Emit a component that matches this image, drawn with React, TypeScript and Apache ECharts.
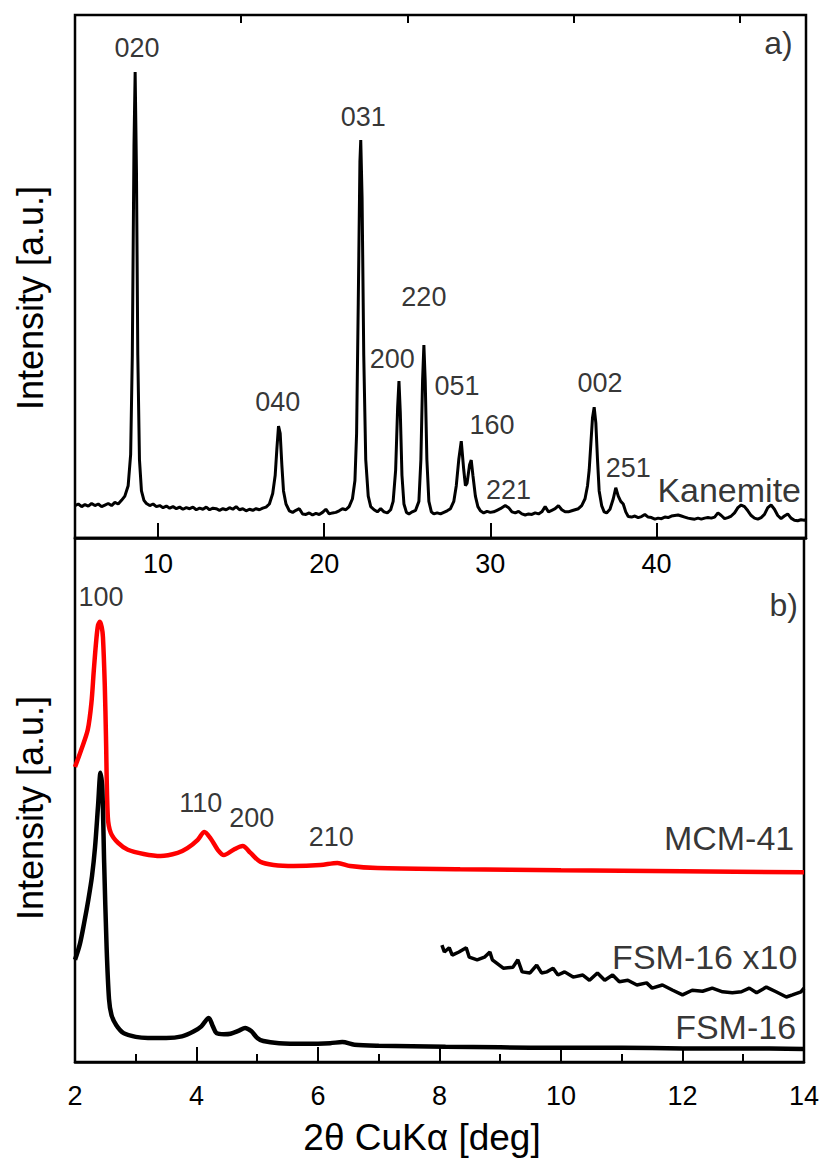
import React, { useEffect, useRef } from "react";
import * as echarts from "echarts";

// ---------- data ----------
// panel a) Kanemite: [2theta, intensity]
const kanemite: [number, number][] = [
  [5.0, 6.2], [5.2, 6.5], [5.4, 6.0], [5.6, 6.4], [5.8, 6.1], [6.0, 6.6], [6.2, 6.2], [6.4, 6.5],
  [6.6, 6.0], [6.8, 6.3], [7.0, 6.6], [7.2, 6.2], [7.4, 6.8], [7.6, 6.5], [7.8, 7.2], [8.0, 8.0],
  [8.2, 10], [8.35, 16], [8.45, 35], [8.55, 75], [8.62, 89.1], [8.7, 70], [8.78, 35], [8.88, 15],
  [9.0, 9], [9.15, 7.2], [9.3, 6.6], [9.5, 6.2], [9.7, 6.5], [9.9, 6.0], [10.1, 6.2], [10.3, 5.8],
  [10.5, 6.1], [10.7, 5.7], [10.9, 6.0], [11.1, 5.6], [11.3, 5.9], [11.5, 5.5], [11.7, 5.8],
  [11.9, 5.6], [12.1, 5.9], [12.3, 5.4], [12.5, 5.7], [12.7, 5.5], [12.9, 5.9], [13.1, 5.4],
  [13.3, 5.7], [13.5, 5.6], [13.7, 5.3], [13.9, 5.6], [14.1, 5.4], [14.3, 5.8], [14.5, 5.5],
  [14.7, 6.0], [14.9, 5.4], [15.1, 5.6], [15.3, 5.2], [15.5, 5.5], [15.7, 5.3], [15.9, 5.6],
  [16.1, 5.4], [16.3, 5.7], [16.5, 5.9], [16.7, 6.5], [16.9, 8.5], [17.05, 12], [17.15, 17],
  [17.25, 21.4], [17.35, 20], [17.45, 14], [17.55, 9], [17.7, 6.5], [17.9, 5.2], [18.1, 4.9],
  [18.3, 5.3], [18.5, 5.6], [18.7, 4.6], [18.9, 4.5], [19.1, 4.8], [19.3, 4.4], [19.5, 4.7],
  [19.7, 4.5], [19.9, 4.9], [20.1, 5.5], [20.3, 4.6], [20.5, 4.8], [20.7, 4.9], [20.9, 5.2],
  [21.1, 5.6], [21.3, 5.4], [21.5, 6.0], [21.7, 7.5], [21.85, 11], [21.95, 20], [22.05, 45],
  [22.15, 72], [22.2, 76.1], [22.28, 65], [22.38, 35], [22.5, 15], [22.65, 8], [22.8, 6],
  [23.0, 5.4], [23.2, 5.0], [23.4, 5.6], [23.6, 5.0], [23.8, 4.8], [24.0, 5.4], [24.15, 7],
  [24.3, 13], [24.42, 25], [24.5, 30.0], [24.58, 24], [24.68, 12], [24.8, 6.5], [24.95, 4.9],
  [25.1, 4.6], [25.3, 5.0], [25.5, 5.3], [25.7, 7], [25.82, 15], [25.92, 30], [26.0, 36.9],
  [26.08, 30], [26.18, 15], [26.3, 7], [26.45, 5.0], [26.6, 4.6], [26.8, 4.8], [27.0, 4.6],
  [27.2, 4.9], [27.4, 5.2], [27.6, 5.6], [27.8, 7], [27.95, 10], [28.1, 15], [28.25, 18.5],
  [28.4, 13], [28.5, 10], [28.6, 10.5], [28.75, 14], [28.85, 14.9], [28.95, 12], [29.1, 8],
  [29.25, 6], [29.4, 5.2], [29.6, 4.8], [29.8, 5.1], [30.0, 4.9], [30.2, 5.0], [30.4, 5.3],
  [30.6, 5.6], [30.9, 6.2], [31.1, 5.8], [31.3, 5.0], [31.5, 4.8], [31.7, 5.1], [31.9, 4.6],
  [32.1, 4.4], [32.3, 4.6], [32.5, 4.5], [32.7, 4.8], [32.9, 4.6], [33.1, 5.0], [33.3, 6.0],
  [33.5, 5.0], [33.7, 5.3], [33.9, 5.6], [34.1, 6.2], [34.3, 5.4], [34.5, 5.0], [34.7, 5.0],
  [34.9, 5.2], [35.1, 5.4], [35.3, 5.6], [35.5, 6.2], [35.7, 7.5], [35.85, 10], [35.95, 13],
  [36.05, 18], [36.15, 23], [36.25, 25.0], [36.35, 22], [36.45, 15], [36.55, 9], [36.7, 6.2],
  [36.85, 5.0], [37.0, 4.8], [37.2, 5.5], [37.4, 7.5], [37.55, 9.6], [37.7, 8], [37.85, 7],
  [38.0, 6.5], [38.15, 5], [38.3, 4.1], [38.5, 4.0], [38.7, 4.2], [38.9, 3.9], [39.1, 4.1],
  [39.3, 4.5], [39.5, 4.0], [39.7, 3.9], [39.9, 3.6], [40.1, 3.8], [40.3, 3.7], [40.5, 4.0],
  [40.7, 3.9], [40.9, 4.2], [41.1, 4.3], [41.3, 4.4], [41.5, 4.2], [41.7, 4.0], [41.9, 3.8],
  [42.1, 3.7], [42.3, 3.6], [42.5, 3.8], [42.7, 3.6], [42.9, 3.8], [43.1, 3.9], [43.3, 3.8],
  [43.5, 4.0], [43.7, 4.8], [43.9, 4.3], [44.1, 3.7], [44.3, 3.9], [44.5, 4.2], [44.7, 4.8],
  [44.9, 5.8], [45.1, 6.3], [45.3, 6.0], [45.5, 5.2], [45.7, 4.3], [45.9, 3.8], [46.1, 3.6],
  [46.3, 3.9], [46.5, 4.5], [46.7, 5.8], [46.9, 6.3], [47.1, 5.5], [47.3, 4.3], [47.5, 3.7],
  [47.7, 4.2], [47.9, 4.6], [48.1, 3.8], [48.3, 3.4], [48.5, 3.3], [48.7, 3.5], [48.9, 3.4],
  [49.0, 3.5],
];

// panel b) MCM-41 (red)
const mcm41: [number, number][] = [
  [2.0, 56.3], [2.1, 59.5], [2.21, 63.4], [2.27, 68.5], [2.31, 74.8], [2.35, 80.5], [2.38, 83.4],
  [2.41, 84.0], [2.44, 83.0], [2.46, 81.1], [2.49, 72], [2.51, 62], [2.54, 46.8], [2.59, 43.7],
  [2.71, 41.8], [2.87, 40.5], [3.13, 39.7], [3.41, 39.3], [3.69, 39.9], [3.85, 40.8],
  [4.02, 42.4], [4.13, 43.9], [4.23, 42.7], [4.35, 40.5], [4.45, 39.5], [4.61, 40.5],
  [4.76, 41.2], [4.89, 39.9], [5.05, 38.2], [5.27, 37.6], [5.6, 37.4], [6.04, 37.6],
  [6.32, 38.0], [6.53, 37.4], [6.98, 37.0], [8.34, 36.8], [10.0, 36.6], [12.0, 36.4],
  [14.0, 36.2],
];

// panel b) FSM-16 (black)
const fsm16: [number, number][] = [
  [2.0, 19.5], [2.08, 22.5], [2.15, 26.5], [2.22, 31], [2.28, 35.5], [2.33, 41], [2.38, 49],
  [2.42, 55.2], [2.45, 52], [2.48, 38], [2.52, 22], [2.56, 12], [2.6, 9.0], [2.68, 7.0],
  [2.8, 5.5], [3.0, 4.8], [3.2, 4.6], [3.5, 4.6], [3.76, 4.9], [3.95, 5.8], [4.08, 6.8],
  [4.2, 8.4], [4.27, 6.8], [4.33, 5.5], [4.45, 5.3], [4.56, 5.4], [4.7, 6.0], [4.8, 6.5],
  [4.9, 5.9], [5.0, 4.6], [5.1, 4.0], [5.36, 3.6], [5.8, 3.5], [6.2, 3.6], [6.4, 3.8],
  [6.6, 3.3], [7.0, 3.1], [8.1, 2.9], [9.0, 2.8], [10.0, 2.7], [11.0, 2.7], [12.0, 2.6],
  [13.0, 2.6], [14.0, 2.5],
];

// panel b) FSM-16 x10 (black, from 8 deg)
const fsm16x10: [number, number][] = [
  [8.04, 22.3], [8.08, 21.0], [8.16, 21.8], [8.21, 20.4], [8.32, 21.0], [8.44, 21.8], [8.49, 20.0],
  [8.62, 19.5], [8.74, 20.0], [8.83, 21.0], [8.87, 19.5], [9.05, 17.9], [9.21, 18.1], [9.29, 19.5],
  [9.36, 17.2], [9.49, 17.0], [9.6, 18.5], [9.68, 17.0], [9.77, 17.2], [9.87, 17.9], [9.95, 16.6],
  [10.06, 17.2], [10.2, 16.2], [10.36, 16.6], [10.47, 15.6], [10.6, 17.0], [10.72, 15.6],
  [10.85, 16.6], [10.96, 15.3], [11.1, 15.6], [11.25, 14.7], [11.41, 15.1], [11.5, 14.1],
  [11.67, 14.7], [11.84, 13.7], [12.0, 12.8], [12.16, 13.7], [12.33, 13.5], [12.49, 14.1],
  [12.66, 13.4], [12.82, 13.2], [12.97, 13.4], [13.1, 14.1], [13.22, 13.2], [13.38, 14.3],
  [13.54, 13.4], [13.71, 12.4], [13.81, 12.8], [13.95, 13.4], [14.0, 14.1],
];

const topMajorTicks = [10, 20, 30, 40];
const topMinorTicks = [15, 25, 35, 45];

// annotations: [text, x, y, align]
const labelsA: [string, number, number, string][] = [
  ["020", 8.73, 93.7, "center"],
  ["031", 22.35, 80.5, "center"],
  ["040", 17.2, 26.0, "center"],
  ["200", 24.1, 34.2, "center"],
  ["220", 26.0, 46.1, "center"],
  ["051", 28.0, 29.1, "center"],
  ["160", 30.1, 21.6, "center"],
  ["221", 31.1, 9.2, "center"],
  ["002", 36.6, 29.6, "center"],
  ["251", 38.3, 13.4, "center"],
  ["Kanemite", 48.7, 9.2, "right"],
  ["a)", 48.2, 94.6, "right"],
];
const labelsB: [string, number, number, string][] = [
  ["100", 2.43, 88.7, "center"],
  ["110", 4.07, 49.4, "center"],
  ["200", 4.91, 46.6, "center"],
  ["210", 6.22, 42.9, "center"],
  ["MCM-41", 13.84, 42.7, "right"],
  ["FSM-16 x10", 13.89, 20.0, "right"],
  ["FSM-16", 13.87, 6.7, "right"],
  ["b)", 13.9, 87.2, "right"],
];

const FONT = "'Liberation Sans', Arial, sans-serif";

function labelSeries(
  labels: [string, number, number, string][],
  xi: number,
  yi: number,
  sizeFor: (t: string) => number
) {
  return {
    type: "scatter",
    xAxisIndex: xi,
    yAxisIndex: yi,
    symbolSize: 1,
    silent: true,
    itemStyle: { color: "rgba(0,0,0,0)" },
    data: labels.map(([t, x, y, a]) => ({
      value: [x, y],
      name: t,
      label: {
        show: true,
        position: "inside",
        formatter: "{b}",
        align: a,
        verticalAlign: "middle",
        color: "#000",
        fontFamily: FONT,
        fontSize: sizeFor(t),
      },
    })),
  };
}

export default function App() {
  const ref = useRef<HTMLDivElement>(null);
  useEffect(() => {
    document.body.style.margin = "0";
    const chart = echarts.init(ref.current!, undefined, { renderer: "svg" });
    const sizeFor = (t: string) => (/^[0-9]+$/.test(t) ? 27 : /\)$/.test(t) ? 32 : 34);
    chart.setOption({
      animation: false,
      backgroundColor: "#fff",
      grid: [
        { left: 75, right: 16, top: 15, height: 523, show: true, borderColor: "#000", borderWidth: 2.5, backgroundColor: "transparent" },
        { left: 75, right: 16, top: 538, height: 524, show: true, borderColor: "#000", borderWidth: 2.5, backgroundColor: "transparent" },
      ],
      xAxis: [
        {
          gridIndex: 0, type: "value", min: 5, max: 49,
          axisLine: { show: true, lineStyle: { color: "#000", width: 2.5 } },
          axisTick: { show: true, inside: true, length: 15, customValues: topMajorTicks, lineStyle: { color: "#000", width: 2 } },
          axisLabel: { show: true, customValues: topMajorTicks, margin: 12, fontSize: 27, color: "#000", fontFamily: FONT },
          splitLine: { show: false },
        },
        {
          gridIndex: 0, type: "value", min: 5, max: 49,
          axisLine: { show: false },
          axisTick: { show: true, inside: true, length: 8, customValues: topMinorTicks, lineStyle: { color: "#000", width: 2 } },
          axisLabel: { show: false },
          splitLine: { show: false },
        },
        {
          gridIndex: 1, type: "value", min: 2, max: 14, interval: 2,
          axisLine: { show: true, lineStyle: { color: "#000", width: 2.5 } },
          axisTick: { show: true, inside: true, length: 15, lineStyle: { color: "#000", width: 2 } },
          minorTick: { show: true, splitNumber: 2, length: 8, lineStyle: { color: "#000", width: 2 } },
          axisLabel: { show: true, margin: 20, fontSize: 27, color: "#000", fontFamily: FONT },
          splitLine: { show: false },
          minorSplitLine: { show: false },
        },
      ],
      yAxis: [
        { gridIndex: 0, type: "value", min: 0, max: 100, show: false },
        { gridIndex: 1, type: "value", min: 0, max: 100, show: false },
      ],
      graphic: [
        {
          type: "text", x: 30, y: 298, rotation: Math.PI / 2,
          style: { text: "Intensity [a.u.]", font: `36px ${FONT}`, fill: "#000", textAlign: "center", textVerticalAlign: "middle" },
        },
        {
          type: "text", x: 30, y: 808, rotation: Math.PI / 2,
          style: { text: "Intensity [a.u.]", font: `36px ${FONT}`, fill: "#000", textAlign: "center", textVerticalAlign: "middle" },
        },
        {
          type: "text", x: 422, y: 1137,
          style: { text: "2θ CuKα [deg]", font: `37px ${FONT}`, fill: "#000", textAlign: "center", textVerticalAlign: "middle" },
        },
      ],
      series: [
        {
          type: "line", xAxisIndex: 0, yAxisIndex: 0, data: kanemite, showSymbol: false,
          lineStyle: { color: "#000", width: 3 }, silent: true,
        },
        {
          type: "line", xAxisIndex: 2, yAxisIndex: 1, data: mcm41, showSymbol: false, smooth: 0.3,
          lineStyle: { color: "#ff0000", width: 4.5 }, silent: true,
        },
        {
          type: "line", xAxisIndex: 2, yAxisIndex: 1, data: fsm16, showSymbol: false, smooth: 0.3,
          lineStyle: { color: "#000", width: 4.5 }, silent: true,
        },
        {
          type: "line", xAxisIndex: 2, yAxisIndex: 1, data: fsm16x10, showSymbol: false,
          lineStyle: { color: "#000", width: 3.5 }, silent: true,
        },
        labelSeries(labelsA, 0, 0, sizeFor),
        labelSeries(labelsB, 2, 1, sizeFor),
      ],
    });
    return () => chart.dispose();
  }, []);
  return <div ref={ref} style={{ width: 822, height: 1162, position: "absolute", left: 0, top: 0 }} />;
}
